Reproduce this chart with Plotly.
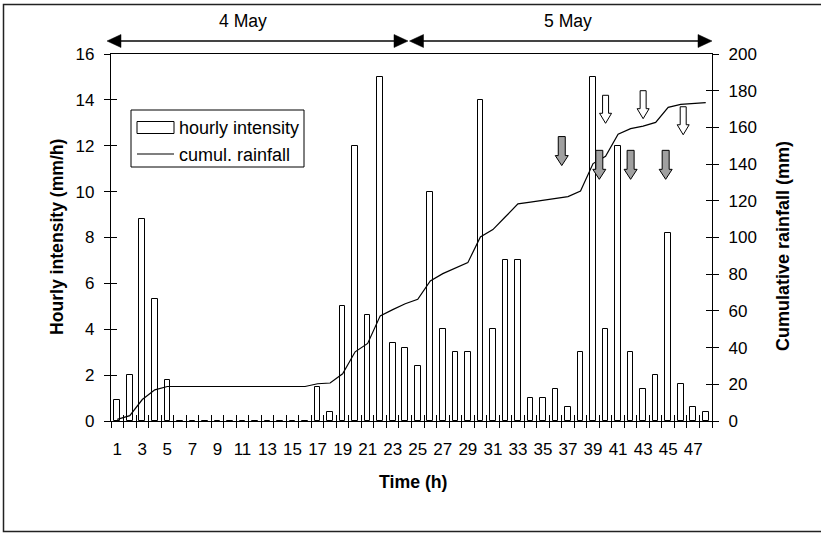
import plotly.graph_objects as go

# ---------------- data ----------------
hours = list(range(1, 49))
hourly_intensity = [0.9, 2.0, 8.8, 5.3, 1.8, 0, 0, 0, 0, 0, 0, 0, 0, 0, 0, 0,
                    1.5, 0.4, 5.0, 12.0, 4.6, 15.0, 3.4, 3.2, 2.4, 10.0, 4.0, 3.0,
                    3.0, 14.0, 4.0, 7.0, 7.0, 1.0, 1.0, 1.4, 0.6, 3.0, 15.0, 4.0,
                    12.0, 3.0, 1.4, 2.0, 8.2, 1.6, 0.6, 0.4]
cumul_rainfall = [0.9, 2.9, 11.7, 17.0, 18.8, 18.8, 18.8, 18.8, 18.8, 18.8, 18.8,
                  18.8, 18.8, 18.8, 18.8, 18.8, 20.3, 20.7, 25.7, 37.7, 42.3, 57.3,
                  60.7, 63.9, 66.3, 76.3, 80.3, 83.3, 86.3, 100.3, 104.3, 111.3,
                  118.3, 119.3, 120.3, 121.7, 122.3, 125.3, 140.3, 144.3, 156.3,
                  159.3, 160.7, 162.7, 170.9, 172.5, 173.1, 173.5]
x_tick_labels = [str(h) for h in range(1, 48, 2)]
left_ticks = list(range(0, 17, 2))
right_ticks = list(range(0, 201, 20))
day_labels = ["4 May", "5 May"]

# block-arrow annotations (hour position, top value on the left axis)
grey_arrow_hour = [36.5, 39.5, 42.0, 44.8]
grey_arrow_top = [12.4, 11.8, 11.8, 11.8]
white_arrow_hour = [40.0, 43.0, 46.2]
white_arrow_top = [14.2, 14.4, 13.7]

# ---------------- layout geometry ----------------
W, H = 821, 534
L, R, T, B = 111, 712, 54, 421
FONT = "Liberation Sans, Arial, sans-serif"


def px(x):
    return (x - L) / (R - L)


def py(y):
    return (B - y) / (B - T)


fig = go.Figure()
fig.add_trace(go.Bar(x=hours, y=hourly_intensity, width=0.45,
                     marker=dict(color="white", line=dict(color="black", width=1)),
                     name="hourly intensity", showlegend=False))
fig.add_trace(go.Scatter(x=hours, y=cumul_rainfall, yaxis="y2", mode="lines",
                         line=dict(color="black", width=1.2),
                         name="cumul. rainfall", showlegend=False))
# dummy traces to activate tick-only overlay axes
for xa, ya in [("x2", "y"), ("x3", "y"), ("x", "y3"), ("x", "y4")]:
    fig.add_trace(go.Scatter(x=[None], y=[None], xaxis=xa, yaxis=ya,
                             showlegend=False, hoverinfo="skip"))

shapes = []
annotations = []

# outer frame
shapes.append(dict(type="rect", xref="paper", yref="paper",
                   x0=px(3.5), x1=px(830), y0=py(4.5), y1=py(531.5),
                   line=dict(color="#222", width=1.5)))

# day span arrows
day_spans = [(107, 408), (409.5, 712)]
day_text_x = [242.7, 568]
ay = 41
for (a, b), lab, tx in zip(day_spans, day_labels, day_text_x):
    shapes.append(dict(type="line", xref="paper", yref="paper",
                       x0=px(a + 10), x1=px(b - 10), y0=py(ay), y1=py(ay),
                       line=dict(color="#444", width=2)))
    shapes.append(dict(type="path", xref="paper", yref="paper",
                       path=f"M{px(a)},{py(ay)} L{px(a + 14)},{py(ay - 6.5)} L{px(a + 14)},{py(ay + 6.5)} Z",
                       fillcolor="black", line=dict(color="black", width=0.5)))
    shapes.append(dict(type="path", xref="paper", yref="paper",
                       path=f"M{px(b)},{py(ay)} L{px(b - 14)},{py(ay - 6.5)} L{px(b - 14)},{py(ay + 6.5)} Z",
                       fillcolor="black", line=dict(color="black", width=0.5)))
    annotations.append(dict(xref="paper", yref="paper", x=px(tx), y=py(21),
                            text=lab, showarrow=False, xanchor="center", yanchor="middle",
                            font=dict(family=FONT, size=17.6, color="black")))

# block arrows in data units
unit_x = (R - L) / 48.0
unit_y = (B - T) / 16.0


def block_arrow(cx, top, shaft_px, head_px, head_len_px, total_px, fill):
    sw = shaft_px / 2 / unit_x
    hw = head_px / 2 / unit_x
    hl = head_len_px / unit_y
    h = total_px / unit_y
    yb = top - h + hl
    path = (f"M{cx - sw},{top} L{cx + sw},{top} L{cx + sw},{yb} L{cx + hw},{yb} "
            f"L{cx},{top - h} L{cx - hw},{yb} L{cx - sw},{yb} Z")
    return dict(type="path", xref="x", yref="y", path=path, fillcolor=fill,
                line=dict(color="black", width=1), layer="above")


for cx, top in zip(grey_arrow_hour, grey_arrow_top):
    shapes.append(block_arrow(cx, top, 7, 13, 10, 29, "#a0a0a0"))
for cx, top in zip(white_arrow_hour, white_arrow_top):
    shapes.append(block_arrow(cx, top, 6, 12, 10, 28, "white"))

# legend box (drawn)
shapes.append(dict(type="rect", xref="paper", yref="paper",
                   x0=px(131), x1=px(304), y0=py(110), y1=py(167),
                   line=dict(color="black", width=1), fillcolor="white"))
shapes.append(dict(type="rect", xref="paper", yref="paper",
                   x0=px(137), x1=px(174), y0=py(121.5), y1=py(133.5),
                   line=dict(color="black", width=1), fillcolor="white"))
shapes.append(dict(type="line", xref="paper", yref="paper",
                   x0=px(137), x1=px(174), y0=py(154), y1=py(154),
                   line=dict(color="black", width=1.2)))
annotations.append(dict(xref="paper", yref="paper", x=px(177), y=py(127.5),
                        text="hourly intensity", showarrow=False, xanchor="left",
                        yanchor="middle", font=dict(family=FONT, size=18, color="black")))
annotations.append(dict(xref="paper", yref="paper", x=px(177), y=py(154.5),
                        text="cumul. rainfall", showarrow=False, xanchor="left",
                        yanchor="middle", font=dict(family=FONT, size=18, color="black")))

# axis titles
annotations.append(dict(xref="paper", yref="paper", x=px(57), y=py(237),
                        text="<b>Hourly intensity (mm/h)</b>", textangle=-90,
                        showarrow=False, xanchor="center", yanchor="middle",
                        font=dict(family=FONT, size=17.6, color="black")))
annotations.append(dict(xref="paper", yref="paper", x=px(783), y=py(246),
                        text="<b>Cumulative rainfall (mm)</b>", textangle=-90,
                        showarrow=False, xanchor="center", yanchor="middle",
                        font=dict(family=FONT, size=18, color="black")))
annotations.append(dict(xref="paper", yref="paper", x=px(413), y=py(482),
                        text="<b>Time (h)</b>", showarrow=False,
                        xanchor="center", yanchor="middle",
                        font=dict(family=FONT, size=17.7, color="black")))

boundaries = [h + 0.5 for h in range(0, 49)]
tickfont = dict(family=FONT, size=17, color="black")

fig.update_layout(
    width=W, height=H,
    margin=dict(l=L, r=W - R, t=T, b=H - B, pad=0),
    paper_bgcolor="white", plot_bgcolor="white",
    showlegend=False, bargap=0,
    font=dict(family=FONT, color="black"),
    xaxis=dict(range=[0.5, 48.5], tickmode="array",
               tickvals=list(range(1, 48, 2)), ticktext=x_tick_labels,
               ticks="", showline=True, linecolor="black", linewidth=1.3,
               mirror=True, showgrid=False, zeroline=False,
               tickfont=tickfont, ticklabelstandoff=12),
    xaxis2=dict(range=[0.5, 48.5], overlaying="x", anchor="y", tickmode="array",
                tickvals=boundaries, ticks="outside", ticklen=6, tickwidth=1,
                tickcolor="black", showticklabels=False, showline=False,
                showgrid=False, zeroline=False),
    xaxis3=dict(range=[0.5, 48.5], overlaying="x", anchor="y", tickmode="array",
                tickvals=boundaries, ticks="inside", ticklen=6, tickwidth=1,
                tickcolor="black", showticklabels=False, showline=False,
                showgrid=False, zeroline=False),
    yaxis=dict(range=[0, 16], tickmode="array", tickvals=left_ticks,
               ticks="outside", ticklen=6, tickwidth=1, tickcolor="black",
               showline=True, linecolor="black", linewidth=1.3,
               showgrid=False, zeroline=False, tickfont=tickfont,
               ticklabelstandoff=6),
    yaxis2=dict(range=[0, 200], tickmode="array", tickvals=right_ticks,
                overlaying="y", side="right", anchor="x",
                ticks="outside", ticklen=6, tickwidth=1, tickcolor="black",
                showline=True, linecolor="black", linewidth=1.3,
                showgrid=False, zeroline=False, tickfont=tickfont,
                ticklabelstandoff=6),
    yaxis3=dict(range=[0, 16], tickmode="array", tickvals=left_ticks,
                overlaying="y", side="left", anchor="x",
                ticks="inside", ticklen=6, tickwidth=1, tickcolor="black",
                showticklabels=False, showline=False, showgrid=False,
                zeroline=False),
    yaxis4=dict(range=[0, 200], tickmode="array", tickvals=right_ticks,
                overlaying="y", side="right", anchor="x",
                ticks="inside", ticklen=6, tickwidth=1, tickcolor="black",
                showticklabels=False, showline=False, showgrid=False,
                zeroline=False),
    shapes=shapes,
    annotations=annotations,
)

fig.write_html("out.html", config={"displayModeBar": False},
               post_script="document.body.style.margin='0';document.body.style.overflow='hidden';")
